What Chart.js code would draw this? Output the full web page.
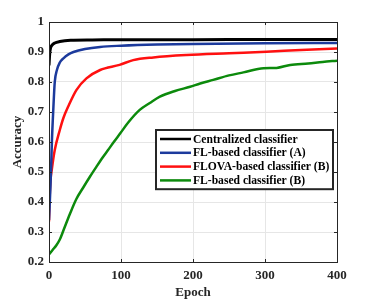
<!DOCTYPE html>
<html>
<head>
<meta charset="utf-8">
<script src="https://cdn.jsdelivr.net/npm/chart.js@4"></script>
<style>
  html, body { margin: 0; padding: 0; background: #fff; }
  #wrap { width: 374px; height: 300px; }
</style>
</head>
<body>
<div id="wrap"><canvas id="accChart"></canvas></div>
<script>
const seriesNames = ['Centralized classifier', 'FL-based classifier (A)', 'FLOVA-based classifier (B)', 'FL-based classifier (B)'];
const seriesColors = ['#000000', '#1c3a9c', '#ff1010', '#0c8a0c'];

const centralEpochs = [0, 1, 2, 4, 8, 15, 30, 60, 100, 200, 300, 400];
const centralAcc = [0.855, 0.895, 0.912, 0.922, 0.930, 0.935, 0.939, 0.940, 0.941, 0.941, 0.942, 0.942];

const flAEpochs = [0, 2, 3, 4, 6, 8, 11, 15, 20, 27, 34, 50, 71, 100, 150, 200, 300, 400];
const flAAcc = [0.34, 0.45, 0.52, 0.60, 0.71, 0.80, 0.84, 0.865, 0.879, 0.892, 0.900, 0.910, 0.917, 0.921, 0.925, 0.927, 0.929, 0.930];

const flovaEpochs = [0, 1, 2, 4, 8, 15, 20, 27, 38, 52, 71, 98, 117, 145, 191, 250, 302, 350, 400];
const flovaAcc = [0.335, 0.42, 0.47, 0.51, 0.573, 0.64, 0.68, 0.72, 0.773, 0.812, 0.840, 0.857, 0.873, 0.882, 0.890, 0.896, 0.901, 0.907, 0.912];

const flBEpochs = [0, 5, 10, 15, 20, 29, 38, 48, 57, 66, 75, 82, 90, 99, 110, 126, 140, 154, 175, 196, 210, 228, 250, 270, 298, 316, 335, 360, 380, 400];
const flBAcc = [0.225, 0.24, 0.255, 0.275, 0.305, 0.36, 0.41, 0.45, 0.485, 0.518, 0.55, 0.573, 0.60, 0.629, 0.665, 0.707, 0.73, 0.751, 0.77, 0.784, 0.795, 0.807, 0.822, 0.832, 0.846, 0.847, 0.857, 0.862, 0.867, 0.871];

const xTicks = [0, 100, 200, 300, 400];
const yTicks = [0.2, 0.3, 0.4, 0.5, 0.6, 0.7, 0.8, 0.9, 1];

function toPoints(xs, ys) {
    return xs.map((x, i) => ({ x: x, y: ys[i] }));
}

const allSeries = [
    toPoints(centralEpochs, centralAcc),
    toPoints(flAEpochs, flAAcc),
    toPoints(flovaEpochs, flovaAcc),
    toPoints(flBEpochs, flBAcc)
];

const serif = '"Liberation Serif", "Times New Roman", serif';
const axisColor = '#262626';

// box around the plot + inward ticks, like matlab
const framePlugin = {
    id: 'frame',
    afterDatasetsDraw(chart) {
        const { ctx, chartArea: a, scales } = chart;
        ctx.save();
        ctx.strokeStyle = axisColor;
        ctx.lineWidth = 1;
        ctx.strokeRect(a.left + 0.5, a.top + 0.5, a.right - a.left, a.bottom - a.top);
        ctx.beginPath();
        xTicks.forEach(v => {
            const px = Math.round(scales.x.getPixelForValue(v)) + 0.5;
            ctx.moveTo(px, a.bottom); ctx.lineTo(px, a.bottom - 3);
            ctx.moveTo(px, a.top); ctx.lineTo(px, a.top + 3);
        });
        yTicks.forEach(v => {
            const py = Math.round(scales.y.getPixelForValue(v)) + 0.5;
            ctx.moveTo(a.left, py); ctx.lineTo(a.left + 3, py);
            ctx.moveTo(a.right, py); ctx.lineTo(a.right - 3, py);
        });
        ctx.stroke();
        ctx.restore();
    }
};

// legend box inside plot, lower right
const legendPlugin = {
    id: 'boxLegend',
    afterDraw(chart) {
        const { ctx, chartArea: a } = chart;
        const right = a.right - 4;
        const left = right - 177;
        const top = a.top + 108;
        const rowH = 13.8;
        const h = rowH * 4 + 4;
        ctx.save();
        ctx.fillStyle = '#fff';
        ctx.fillRect(left, top, right - left, h);
        ctx.strokeStyle = '#262626';
        ctx.lineWidth = 2;
        ctx.strokeRect(left, top, right - left, h);
        ctx.font = 'bold 11.6px ' + serif;
        ctx.textBaseline = 'middle';
        chart.data.datasets.forEach((ds, i) => {
            const y = top + 9 + i * rowH;
            ctx.strokeStyle = ds.borderColor;
            ctx.lineWidth = 2.5;
            ctx.beginPath();
            ctx.moveTo(left + 4, y);
            ctx.lineTo(left + 35, y);
            ctx.stroke();
            ctx.fillStyle = '#000';
            ctx.fillText(ds.label, left + 37, y + 0.5);
        });
        ctx.restore();
    }
};

new Chart(document.getElementById('accChart'), {
    type: 'line',
    data: {
        datasets: allSeries.map((pts, i) => ({
            label: seriesNames[i],
            data: pts,
            borderColor: seriesColors[i],
            borderWidth: i === 0 ? 3 : 2.5,
            pointRadius: 0,
            cubicInterpolationMode: 'monotone',
            fill: false
        }))
    },
    options: {
        responsive: true,
        maintainAspectRatio: false,
        animation: false,
        layout: { padding: { top: 22, right: 37, left: 0, bottom: 0 } },
        plugins: {
            legend: { display: false },
            tooltip: { enabled: false }
        },
        scales: {
            x: {
                type: 'linear',
                min: 0,
                max: 400,
                afterBuildTicks: s => { s.ticks = xTicks.map(v => ({ value: v })); },
                afterFit: s => { s.height = 38; },
                grid: { color: '#e6e6e6', drawTicks: false, tickLength: 0 },
                border: { display: false },
                ticks: {
                    padding: 6,
                    color: axisColor,
                    font: { family: serif, size: 13, weight: 'bold' },
                    callback: v => String(v)
                },
                title: {
                    display: true,
                    text: 'Epoch',
                    color: axisColor,
                    padding: { top: 0, bottom: 0 },
                    font: { family: serif, size: 13, weight: 'bold' }
                }
            },
            y: {
                min: 0.2,
                max: 1,
                afterBuildTicks: s => { s.ticks = yTicks.map(v => ({ value: v })); },
                afterFit: s => { s.width = 49; },
                grid: { color: '#e6e6e6', drawTicks: false, tickLength: 0 },
                border: { display: false },
                ticks: {
                    padding: 5,
                    color: axisColor,
                    font: { family: serif, size: 13, weight: 'bold' },
                    callback: v => String(Math.round(v * 10) / 10)
                },
                title: {
                    display: true,
                    text: 'Accuracy',
                    color: axisColor,
                    padding: { top: 10, bottom: 0 },
                    font: { family: serif, size: 13, weight: 'bold' }
                }
            }
        }
    },
    plugins: [framePlugin, legendPlugin]
});
</script>
</body>
</html>
